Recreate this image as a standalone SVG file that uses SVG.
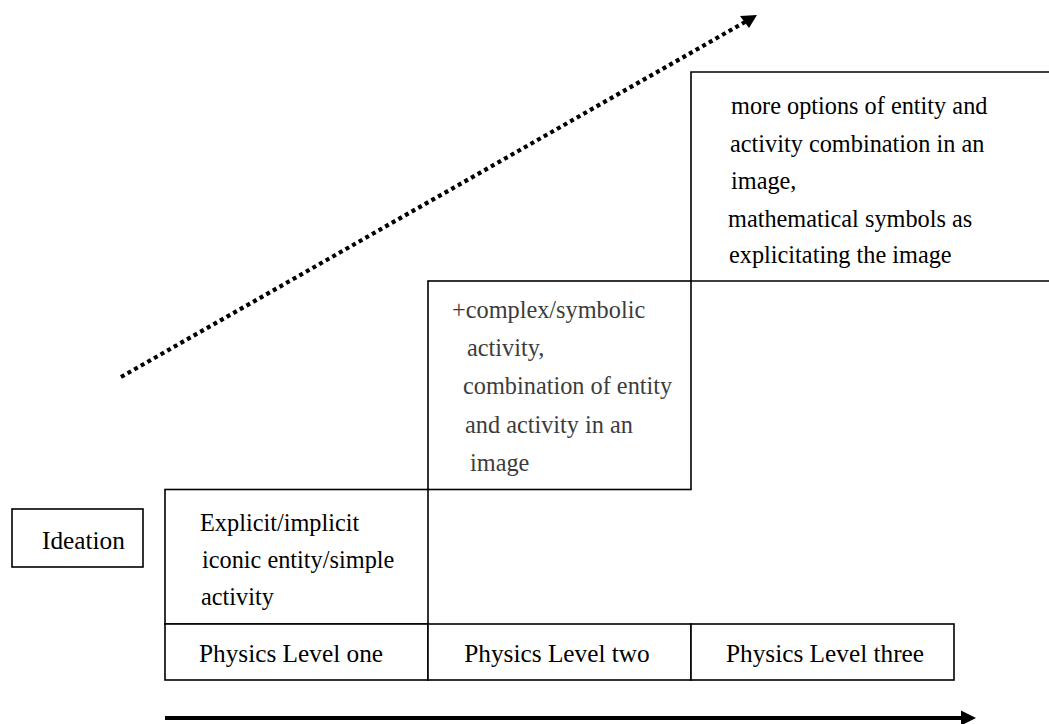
<svg xmlns="http://www.w3.org/2000/svg" width="1049" height="724" viewBox="0 0 1049 724">
  <style>
    .box { fill: #ffffff; stroke: #000000; stroke-width: 1.6; }
    .txt { font-family: 'Liberation Serif', Tinos, 'DejaVu Serif', serif; font-size: 24.3px; fill: #000000; }
    .lbl { font-size: 25.3px; }
    .grey { fill: #3c3c3c; }
    .mid { text-anchor: middle; }
  </style>

  <!-- connectors: rising dotted trend and horizontal progression axis -->
  <g id="connectors">
    <line x1="121" y1="377" x2="745" y2="22" stroke="#000000" stroke-width="4.2" stroke-dasharray="4 3.6"/>
    <path d="M740,16 L757,15 L749,28 Z" fill="#000000"/>
    <line x1="165" y1="718" x2="962" y2="718" stroke="#000000" stroke-width="4"/>
    <path d="M961,710.5 L976,718 L961,725.5 Z" fill="#000000"/>
  </g>

  <g id="ideation">
    <rect class="box" x="12" y="509" width="131" height="58"/>
    <text class="txt lbl" x="42" y="549">Ideation</text>
  </g>

  <g id="level-three-ideation">
    <path class="box" d="M1052,72 L691,72 L691,281 L1052,281"/>
    <text class="txt" x="731" y="114">more options of entity and</text>
    <text class="txt" x="730" y="152">activity combination in an</text>
    <text class="txt" x="731" y="189">image,</text>
    <text class="txt" x="728" y="227">mathematical symbols as</text>
    <text class="txt" x="729" y="263">explicitating the image</text>
  </g>

  <g id="level-two-ideation">
    <rect class="box" x="428" y="281" width="263" height="208.5"/>
    <text class="txt grey" x="452" y="318">+complex/symbolic</text>
    <text class="txt grey" x="467" y="356">activity,</text>
    <text class="txt grey" x="463" y="394">combination of entity</text>
    <text class="txt grey" x="465" y="433">and activity in an</text>
    <text class="txt grey" x="470" y="471">image</text>
  </g>

  <g id="level-one-ideation">
    <rect class="box" x="165" y="489.5" width="263" height="134.5"/>
    <text class="txt" x="200" y="531">Explicit/implicit</text>
    <text class="txt" x="202" y="568">iconic entity/simple</text>
    <text class="txt" x="201" y="605">activity</text>
  </g>

  <g id="level-one">
    <rect class="box" x="165" y="624" width="263" height="56"/>
    <text class="txt lbl mid" x="291" y="662">Physics Level one</text>
  </g>

  <g id="level-two">
    <rect class="box" x="428" y="624" width="263" height="56"/>
    <text class="txt lbl mid" x="557" y="662">Physics Level two</text>
  </g>

  <g id="level-three">
    <rect class="box" x="691" y="624" width="263" height="56"/>
    <text class="txt lbl mid" x="825" y="662">Physics Level three</text>
  </g>
</svg>
